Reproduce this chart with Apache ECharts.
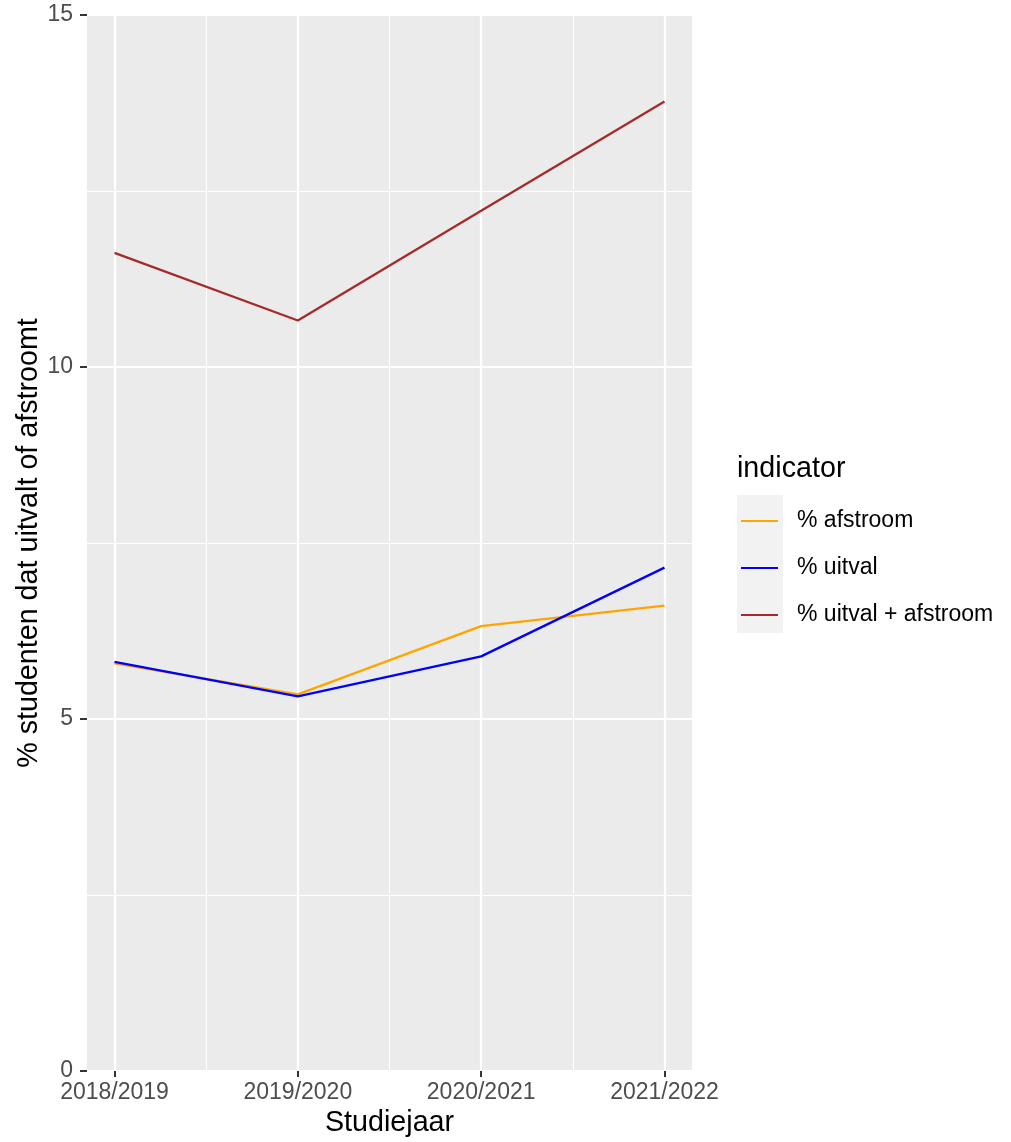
<!DOCTYPE html>
<html>
<head>
<meta charset="utf-8">
<script src="https://cdn.jsdelivr.net/npm/echarts@6/dist/echarts.min.js"></script>
<style>html,body{margin:0;padding:0;background:#fff}#c{width:1011px;height:1142px}</style>
</head>
<body>
<div id="c"></div>
<script>
const categories = ['2018/2019', '2019/2020', '2020/2021', '2021/2022'];
const afstroom = [5.79, 5.35, 6.32, 6.61];
const uitval = [5.81, 5.32, 5.89, 7.15];
const uitvalAfstroom = [11.62, 10.66, 12.22, 13.77];
const yTicks = [0, 5, 10, 15];
const seriesNames = ['% afstroom', '% uitval', '% uitval + afstroom'];
const seriesColors = ['#FFA500', '#0000FF', '#A52A2A'];

const FONT = 'Liberation Sans, Arial, sans-serif';
const idx = categories.map((c, i) => i);
function pairs(arr) { return arr.map((v, i) => [i, v]); }

const chart = echarts.init(document.getElementById('c'), null, { renderer: 'canvas' });
const dataSets = [afstroom, uitval, uitvalAfstroom];

const series = [{
  type: 'line', name: '__grid', data: [], silent: true, showSymbol: false, z: 0, zlevel: 0,
  markLine: {
    silent: true, symbol: 'none', label: { show: false }, z: 0,
    lineStyle: { color: '#FFFFFF', width: 1.1, type: 'solid' },
    data: [0.5, 1.5, 2.5].map(v => ({ xAxis: v }))
  }
}];
dataSets.forEach((d, k) => series.push({
  type: 'line', name: seriesNames[k], data: pairs(d), z: 5,
  symbol: 'none', showSymbol: false,
  lineStyle: { color: seriesColors[k], width: 2.3 },
  itemStyle: { color: seriesColors[k] }
}));

chart.setOption({
  animation: false,
  backgroundColor: '#FFFFFF',
  grid: { left: 87, right: 319, top: 15, bottom: 71, show: true, backgroundColor: '#EBEBEB', borderWidth: 0,
    outerBoundsMode: 'none', containLabel: false },
  xAxis: {
    type: 'value', min: -0.15, max: 3.15,
    name: 'Studiejaar', nameLocation: 'middle', nameGap: 38, nameMoveOverlap: false,
    nameTextStyle: { color: '#000', fontSize: 28.7, fontFamily: FONT },
    axisLine: { show: false, onZero: false },
    axisTick: { show: true, length: 6, customValues: idx, lineStyle: { color: '#333333', width: 2 } },
    axisLabel: { customValues: idx, color: '#4D4D4D', fontSize: 23, fontFamily: FONT, margin: 10,
      formatter: v => categories[Math.round(v)] },
    splitLine: { show: true, lineStyle: { color: '#FFFFFF', width: 2.2 } }
  },
  yAxis: {
    type: 'value', min: 0, max: 15, interval: 5,
    name: '% studenten dat uitvalt of afstroomt', nameLocation: 'middle', nameGap: 43, nameMoveOverlap: false,
    nameTextStyle: { color: '#000', fontSize: 28.7, fontFamily: FONT },
    axisLine: { show: false, onZero: false },
    axisTick: { show: true, length: 7, lineStyle: { color: '#333333', width: 2 } },
    axisLabel: { color: '#4D4D4D', fontSize: 23, fontFamily: FONT, margin: 14,
      formatter: v => (yTicks.indexOf(v) >= 0 ? String(v) : '') },
    splitLine: { show: true, lineStyle: { color: '#FFFFFF', width: 2.2 } },
    minorTick: { show: false, splitNumber: 2 },
    minorSplitLine: { show: true, lineStyle: { color: '#FFFFFF', width: 1.1 } }
  },
  legend: {
    orient: 'vertical', left: 741, top: 509, padding: 0,
    data: seriesNames,
    itemWidth: 37, itemHeight: 14, itemGap: 23,
    icon: 'path://M0,6 L37,6 L37,8 L0,8 Z',
    textStyle: { color: '#000', fontSize: 23, fontFamily: FONT, lineHeight: 24, padding: [0, 0, 0, 14] }
  },
  graphic: [
    { type: 'rect', left: 737, top: 495, z: -1, shape: { width: 46, height: 138 }, style: { fill: '#F2F2F2' } },
    { type: 'text', left: 737, top: 455, style: { text: 'indicator', fill: '#000', fontSize: 28.7, fontFamily: FONT } }
  ],
  series: series
});
</script>
</body>
</html>
